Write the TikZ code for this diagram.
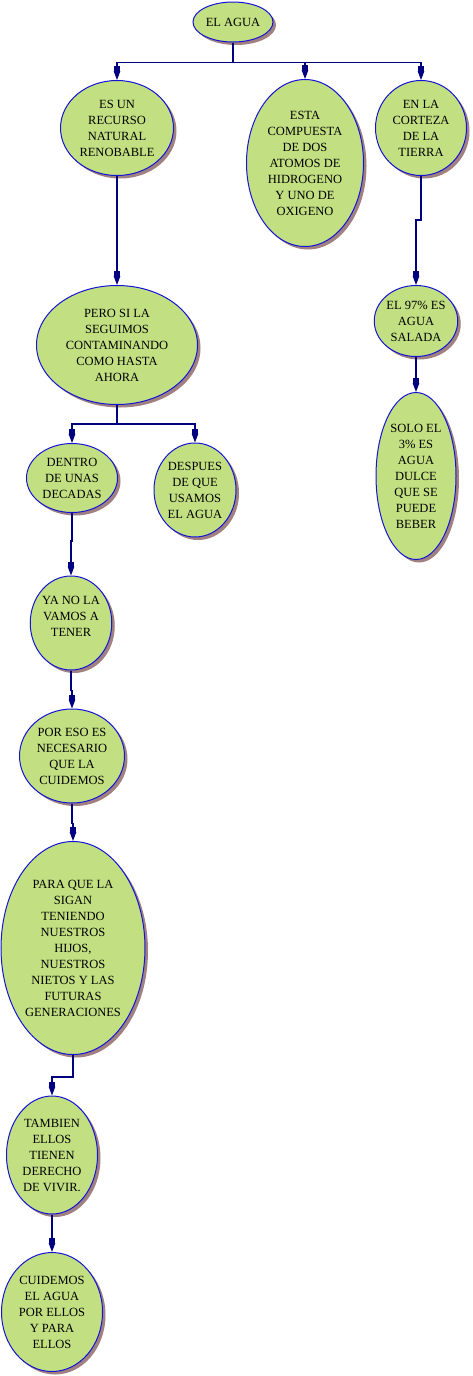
\documentclass[tikz,border=0pt]{standalone}
\usepackage{fontspec}
\setmainfont{Liberation Serif}
\usetikzlibrary{arrows.meta,shapes.geometric,shadows}
\definecolor{verde}{RGB}{194,224,130}
\definecolor{borde}{RGB}{20,20,215}
\definecolor{marino}{RGB}{0,0,128}
\definecolor{sombra}{RGB}{160,128,128}
\tikzstyle{bubble} = [ellipse, draw=borde, fill=verde, line width=1pt, inner sep=0pt, align=center, text=black, font=\fontsize{12.5}{16}\selectfont, drop shadow={shadow xshift=3pt, shadow yshift=-3pt, fill=sombra, opacity=1}]
\tikzstyle{arrow} = [marino, line width=1.1pt, -{Rectangle[length=5pt,width=6.5pt]Triangle[length=9pt,width=6.5pt]}]

\begin{document}
\begin{tikzpicture}[x=1pt, y=-1pt]
\fill [white] (0,0) rectangle (472,1376);
\useasboundingbox (0,0) rectangle (472,1376);
\node (agua) [bubble, minimum width=80pt, minimum height=40pt] at (233,22) {EL AGUA};
\node (recurso) [bubble, minimum width=113pt, minimum height=95pt] at (117,128) {ES UN\\RECURSO\\NATURAL\\RENOBABLE};
\node (compuesta) [bubble, minimum width=117pt, minimum height=167pt] at (305,163) {ESTA\\COMPUESTA\\DE DOS\\ATOMOS DE\\HIDROGENO\\Y UNO DE\\OXIGENO};
\node (corteza) [bubble, minimum width=91pt, minimum height=95pt] at (421,128) {EN LA\\CORTEZA\\DE LA\\TIERRA};
\node (pero) [bubble, minimum width=161pt, minimum height=119pt] at (117,345) {PERO SI LA\\SEGUIMOS\\CONTAMINANDO\\COMO HASTA\\AHORA};
\node (dentro) [bubble, minimum width=91pt, minimum height=69pt] at (72,478) {DENTRO\\DE UNAS\\DECADAS};
\node (despues) [bubble, minimum width=82pt, minimum height=94pt] at (195,490) {DESPUES\\DE QUE\\USAMOS\\EL AGUA};
\node (salada) [bubble, minimum width=81pt, minimum height=71pt] at (416,321) {EL 97\% ES\\AGUA\\SALADA};
\node (dulce) [bubble, minimum width=80pt, minimum height=167pt] at (416,476) {SOLO EL\\3\% ES\\AGUA\\DULCE\\QUE SE\\PUEDE\\BEBER};
\node (tener) [bubble, minimum width=80pt, minimum height=94pt] at (71,623) {YA NO LA\\VAMOS A\\TENER\\[-2pt]};
\node (cuidemos) [bubble, minimum width=105pt, minimum height=94pt] at (72,756) {POR ESO ES\\NECESARIO\\QUE LA\\CUIDEMOS};
\node (generaciones) [bubble, minimum width=144pt, minimum height=213pt] at (73,948) {PARA QUE LA\\SIGAN\\TENIENDO\\NUESTROS\\HIJOS,\\NUESTROS\\NIETOS Y LAS\\FUTURAS\\GENERACIONES};
\node (derecho) [bubble, minimum width=91pt, minimum height=118pt] at (52,1155) {TAMBIEN\\ELLOS\\TIENEN\\DERECHO\\DE VIVIR.};
\node (porellos) [bubble, minimum width=101pt, minimum height=119pt] at (52,1312) {CUIDEMOS\\EL AGUA\\POR ELLOS\\Y PARA\\ELLOS};

\draw [arrow] (agua.south) -- ++(0,20) -| (recurso.north);
\draw [arrow] (agua.south) -- ++(0,20) -| (compuesta.north);
\draw [arrow] (agua.south) -- ++(0,20) -| (corteza.north);
\draw [arrow] (recurso.south) -- ++(0,44) -| (pero.north);
\draw [arrow] (corteza.south) -- ++(0,44) -| (salada.north);
\draw [arrow] (salada) -- (dulce);
\draw [arrow] (pero.south) -- ++(0,19) -| (dentro.north);
\draw [arrow] (pero.south) -- ++(0,19) -| (despues.north);
\draw [arrow] (dentro.south) -- ++(0,28) -| (tener.north);
\draw [arrow] (tener.south) -- ++(0,20) -| (cuidemos.north);
\draw [arrow] (cuidemos.south) -- ++(0,20) -| (generaciones.north);
\draw [arrow] (generaciones.south) -- ++(0,22) -| (derecho.north);
\draw [arrow] (derecho.south) -- ++(0,20) -| (porellos.north);
\end{tikzpicture}
\end{document}
